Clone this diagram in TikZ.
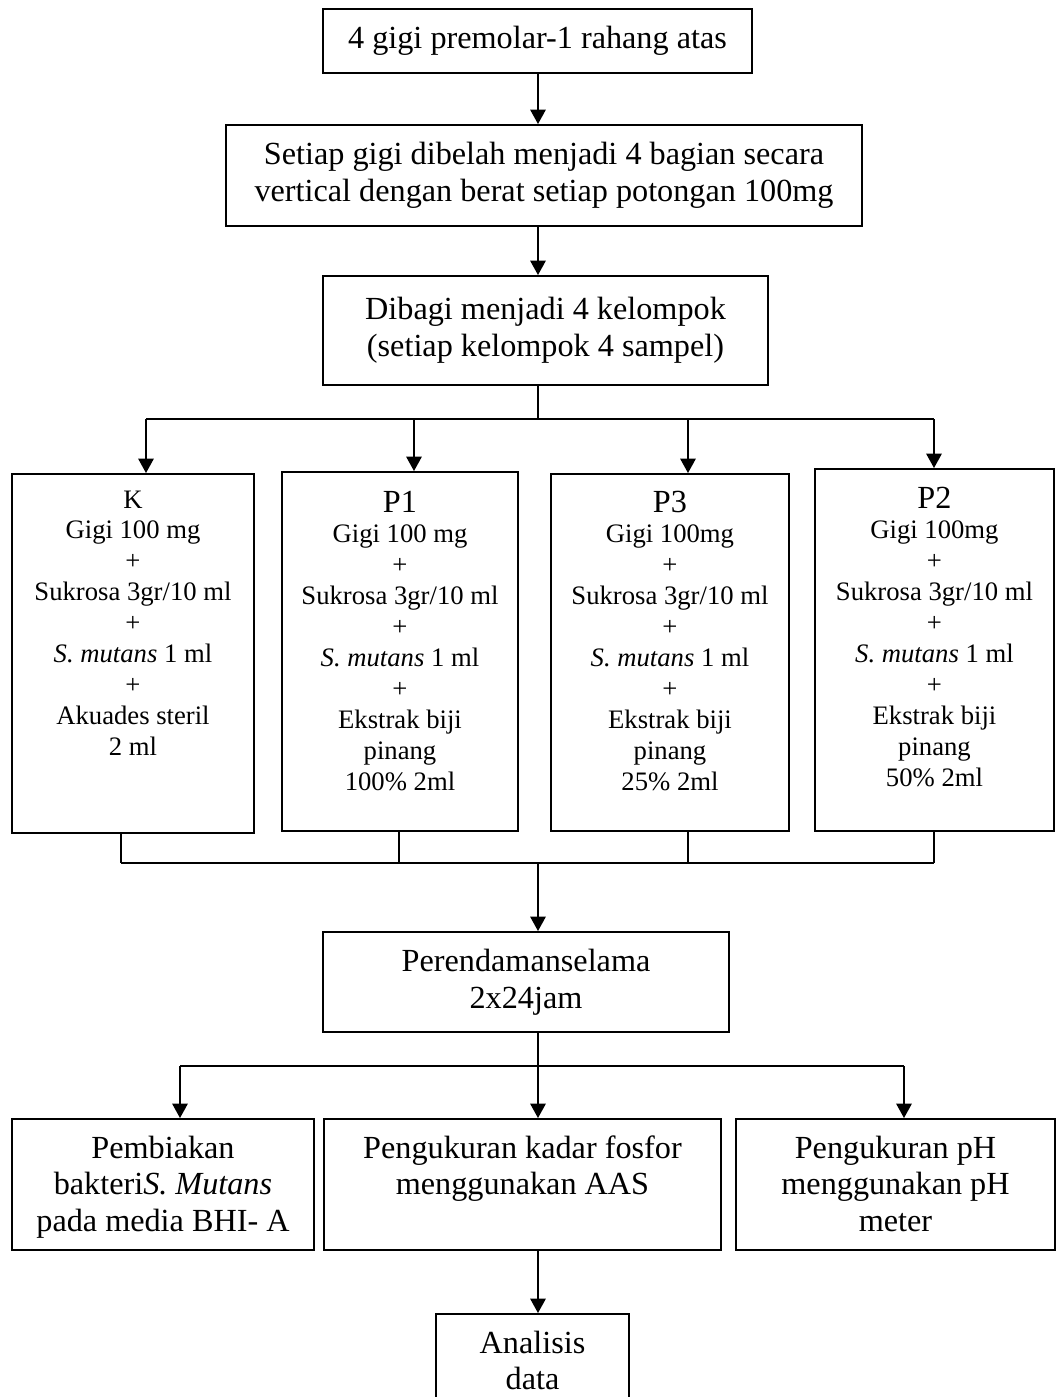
\documentclass[tikz,border=0pt]{standalone}
\usepackage{fontspec}
\setmainfont{Liberation Serif}
\usetikzlibrary{arrows.meta,positioning}

\newlength{\px}
\setlength{\px}{0.45pt}
\newcommand{\bigtext}{\fontsize{14.5}{16.6}\selectfont}
\newcommand{\smalltext}{\fontsize{12}{13.9}\selectfont}
\newcommand{\titletext}{\fontsize{14.5}{13.9}\selectfont}
% height, width, first baseline, lines
\newcommand{\toptext}[4]{\parbox[c][#1\px][t]{#2\px}{\centering\rule{0pt}{#3\px}#4}}

\tikzset{
  flowbox/.style={draw, line width=0.9pt, inner sep=0pt, align=center, font=\bigtext},
  grpbox/.style={draw, line width=0.9pt, inner sep=0pt, font=\smalltext},
  conn/.style={line width=0.7pt},
  arr/.style={conn, -{Triangle[length=6.5pt,width=7pt]}}
}

\begin{document}
\begin{tikzpicture}[x=0.45pt,y=-0.45pt]
    \useasboundingbox (0,0) rectangle (1057,1397);
    \clip (0,0) rectangle (1057,1397);

    % main column
    \node[flowbox, minimum width=429\px, minimum height=64\px]  (start)  at (537.5,41)  {4 gigi premolar-1 rahang atas};
    \node[flowbox, minimum width=636\px, minimum height=101\px] (split)  at (544,175.5) {Setiap gigi dibelah menjadi 4 bagian secara\\vertical dengan berat setiap potongan 100mg};
    \node[flowbox, minimum width=445\px, minimum height=109\px] (groups) at (545.5,330.5) {Dibagi menjadi 4 kelompok\\(setiap kelompok 4 sampel)};

    % four groups
    \node[grpbox, minimum width=242\px] (k)  at (133,653.5)
        {\toptext{359}{232}{34}{K\\Gigi 100 mg\\+\\Sukrosa 3gr/10 ml\\+\\\textit{S. mutans} 1 ml\\+\\Akuades steril\\2 ml}};
    \node[grpbox, minimum width=236\px] (p1) at (400,651.5)
        {\toptext{359}{226}{40}{{\titletext P1}\\Gigi 100 mg\\+\\Sukrosa 3gr/10 ml\\+\\\textit{S. mutans} 1 ml\\+\\Ekstrak biji\\pinang\\100\% 2ml}};
    \node[grpbox, minimum width=238\px] (p3) at (670,652.5)
        {\toptext{357}{228}{38}{{\titletext P3}\\Gigi 100mg\\+\\Sukrosa 3gr/10 ml\\+\\\textit{S. mutans} 1 ml\\+\\Ekstrak biji\\pinang\\25\% 2ml}};
    \node[grpbox, minimum width=239\px] (p2) at (934.5,650)
        {\toptext{362}{229}{39}{{\titletext P2}\\Gigi 100mg\\+\\Sukrosa 3gr/10 ml\\+\\\textit{S. mutans} 1 ml\\+\\Ekstrak biji\\pinang\\50\% 2ml}};

    \node[flowbox, minimum width=406\px, minimum height=100\px] (soak) at (526,982) {Perendamanselama\\2x24jam};

    % results
    \node[flowbox, minimum width=302\px] (culture) at (163,1184.5)
        {\toptext{131}{292}{39}{Pembiakan\\bakteri\textit{S. Mutans}\\pada media BHI- A}};
    \node[flowbox, minimum width=397\px] (phos) at (522.5,1184.5)
        {\toptext{131}{387}{39}{Pengukuran kadar fosfor\\menggunakan AAS}};
    \node[flowbox, minimum width=319\px] (ph) at (895.5,1184.5)
        {\toptext{131}{309}{39}{Pengukuran pH\\menggunakan pH\\meter}};
    \node[flowbox, minimum width=193\px] (anal) at (532.5,1379)
        {\toptext{130}{183}{39}{Analisis\\data}};

    % connectors
    \coordinate (trunk)  at (538,0);
    \coordinate (fan)    at (538,419);
    \coordinate (merge)  at (538,863);
    \coordinate (branch) at (538,1066);

    \draw[arr] (start.south -| trunk) -- (split.north -| trunk);
    \draw[arr] (split.south -| trunk) -- (groups.north -| trunk);
    \draw[conn] (groups.south -| trunk) -- (fan);
    \draw[conn] (146,0 |- fan) -- (934,0 |- fan);
    \foreach \n/\x in {k/146,p1/414,p3/688,p2/934}
        \draw[arr] (\x,0 |- fan) -- (\x,0 |- \n.north);

    \foreach \n/\x in {k/121,p1/399,p3/688,p2/934}
        \draw[conn] (\x,0 |- \n.south) -- (\x,0 |- merge);
    \draw[conn] (121,0 |- merge) -- (934,0 |- merge);
    \draw[arr] (merge) -- (soak.north -| trunk);

    \draw[conn] (soak.south -| trunk) -- (branch);
    \draw[conn] (180,0 |- branch) -- (904,0 |- branch);
    \draw[arr] (branch) -- (phos.north -| trunk);
    \draw[arr] (180,0 |- branch) -- (180,0 |- culture.north);
    \draw[arr] (904,0 |- branch) -- (904,0 |- ph.north);
    \draw[arr] (phos.south -| trunk) -- (anal.north -| trunk);
\end{tikzpicture}
\end{document}
